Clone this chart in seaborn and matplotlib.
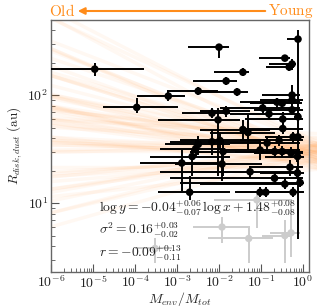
import numpy as np
import pandas as pd
import matplotlib
matplotlib.use('Agg')
import matplotlib.pyplot as plt
import seaborn as sns
from matplotlib.patches import Rectangle, FancyArrowPatch
from matplotlib.ticker import FuncFormatter, LogLocator, NullFormatter

# posterior samples of the fit (slope, intercept in log-log)
slopes = [-0.04, 0.02, -0.11, -0.07, 0.03, -0.01, -0.15, -0.05, 0.06, -0.09,
          -0.02, -0.12, 0.01, -0.06, -0.18, 0.04, -0.03, -0.08, 0.09, -0.13,
          0.00, -0.10, -0.04, 0.05, -0.16, -0.06, 0.02, -0.01, -0.20, -0.07,
          0.07, -0.03, -0.12, -0.05, 0.00, -0.09, 0.10, -0.14, -0.02, -0.08,
          0.03, -0.04, -0.17, -0.06, 0.01, -0.10, 0.08, -0.03, -0.21, -0.05,
          0.04, -0.11, -0.01, -0.07, 0.11, -0.15, -0.04, 0.00, -0.09, -0.02]
intercepts = [1.50, 1.41, 1.55, 1.47, 1.38, 1.52, 1.60, 1.44, 1.49, 1.35,
              1.58, 1.46, 1.53, 1.42, 1.63, 1.48, 1.39, 1.51, 1.45, 1.56,
              1.33, 1.49, 1.62, 1.43, 1.47, 1.54, 1.37, 1.50, 1.59, 1.44,
              1.52, 1.40, 1.46, 1.57, 1.48, 1.36, 1.51, 1.43, 1.65, 1.49,
              1.45, 1.53, 1.41, 1.47, 1.55, 1.39, 1.50, 1.61, 1.46, 1.42,
              1.30, 1.52, 1.48, 1.58, 1.44, 1.51, 1.37, 1.54, 1.47, 1.49]
x_ends = [1e-6, 3.0]

# sources: envelope mass fraction and dust disk radius (au)
menv = [1.1e-5, 1.1e-4, 6.2e-4, 0.010, 0.0148, 0.037, 3.2e-3, 0.027, 0.37, 0.76,
        0.76, 0.55, 0.47, 0.55, 6.8e-3, 0.0148, 9.5e-3, 6.8e-3, 0.0105, 0.0125,
        3.2e-3, 2.8e-3, 2.3e-3, 1.3e-3, 0.11, 0.155, 0.24, 0.32, 0.55, 0.33,
        0.33, 0.55, 0.037, 0.049, 0.14, 0.27, 0.58, 0.76, 0.095, 0.21,
        0.32, 0.52, 0.74, 2.0e-3, 0.0118, 0.095, 0.13, 0.58, 0.49, 0.74,
        0.055, 0.21, 0.37, 0.85]
menv_lo = [1e-6, 1.7e-5, 1.1e-4, 1.8e-3, 2.4e-3, 7.6e-3, 5.8e-4, 3.5e-3, 0.089, 0.42,
           0.60, 0.155, 0.13, 0.105, 1.3e-3, 3.5e-3, 3.5e-4, 6.8e-4, 1.2e-3, 2.0e-3,
           5.2e-4, 4.0e-4, 2.3e-4, 1.3e-4, 0.0105, 0.018, 0.032, 0.055, 0.095, 0.042,
           0.032, 0.07, 3.5e-3, 6.2e-3, 0.018, 0.032, 0.125, 0.16, 0.0105, 0.024,
           0.042, 0.07, 0.125, 3.5e-4, 8.9e-4, 0.024, 0.032, 0.105, 0.055, 0.095,
           4.0e-4, 6.8e-4, 3.5e-3, 1.2e-3]
menv_hi = [1.6e-4, 1.05e-3, 1.55e-3, 0.017, 0.027, 0.052, 9.5e-3, 0.049, 0.49, 0.85,
           0.85, 0.68, 0.62, 0.85, 0.018, 0.055, 0.032, 0.095, 0.095, 0.105,
           0.018, 0.014, 0.018, 0.0118, 0.85, 0.85, 0.85, 0.95, 1.0, 1.0,
           1.0, 1.0, 0.16, 0.21, 0.85, 1.0, 1.0, 1.05, 0.85, 1.0,
           1.0, 1.0, 1.05, 0.018, 0.105, 0.85, 1.0, 1.05, 1.0, 1.05,
           0.85, 1.0, 1.0, 1.05]
rdisk = [174, 77, 98, 278, 135, 163, 109, 107, 220, 330,
         63, 194, 182, 100, 68, 71, 59, 37, 38, 30,
         35, 32, 27, 23.5, 76, 67, 86, 84, 90, 60,
         49, 73, 48, 45, 36, 38, 41, 41, 31, 30,
         30, 29, 27, 12.6, 23, 12.6, 12.6, 12.6, 21.5, 19,
         19.5, 17, 15, 15.5]
rdisk_lo = [150, 68, 88, 220, 124, 150, 100, 98, 206, 272,
            4.6, 170, 166, 81, 61, 63, 18, 28, 31, 18,
            28, 27, 18, 13, 68, 60, 78, 76, 82, 49,
            44, 66, 38, 31, 30, 34, 37, 37, 25, 26,
            27, 26, 24, 10.7, 16, 11.3, 11.3, 11.3, 18, 17,
            17, 15, 13.5, 14]
rdisk_hi = [198, 94, 109, 290, 147, 178, 118, 116, 235, 400,
            272, 216, 199, 124, 76, 79, 76, 48, 46, 38,
            42, 38, 32, 31, 85, 75, 95, 93, 99, 70,
            55, 81, 59, 65, 42, 43, 46, 46, 38, 34,
            34, 33, 31, 18, 31, 14, 14, 14, 25, 22,
            22, 19.5, 17, 17.5]

# excluded sources (grey)
menv_g = [0.0118, 0.051, 0.37, 0.52, 0.08, 3.0e-4]
menv_g_lo = [2.4e-3, 5.5e-3, 0.105, 0.16, 7.8e-3, 1.0e-4]
menv_g_hi = [0.055, 0.19, 0.55, 0.85, 0.49, 7.6e-4]
rdisk_g = [6.0, 4.7, 5.0, 5.3, 10.7, 3.8]
rdisk_g_lo = [4.3, 2.8, 2.8, 3.2, 5.9, 2.8]
rdisk_g_hi = [7.4, 6.0, 7.0, 11.0, 13.0, 4.8]

x_ticks = [1e-6, 1e-5, 1e-4, 1e-3, 1e-2, 1e-1, 1e0]
y_ticks = [1e1, 1e2]

sns.set_style('ticks')
plt.rcParams['mathtext.fontset'] = 'cm'
plt.rcParams['font.family'] = ['DejaVu Serif']

fig = plt.figure(figsize=(3.19, 3.07), dpi=100)
ax = fig.add_axes([0.16, 0.114, 0.809, 0.822])
ax.set_xscale('log')
ax.set_yscale('log')

rows = []
for i, (a, b) in enumerate(zip(slopes, intercepts)):
    for xe in x_ends:
        rows.append({'sample': i, 'x': xe, 'y': 10 ** (b + a * np.log10(xe))})
fan = pd.DataFrame(rows)
n_before = len(ax.lines)
sns.lineplot(data=fan, x='x', y='y', units='sample', estimator=None,
             color='#ff7f0e', alpha=0.05, lw=2.5, ax=ax, legend=False)
clip = Rectangle((0, 0), 1.03, 1, transform=ax.transAxes, visible=False)
ax.add_patch(clip)
for ln in ax.lines[n_before:]:
    ln.set_clip_path(clip)
    ln.set_zorder(1)

# grey points
g_xerr = [np.subtract(menv_g, menv_g_lo), np.subtract(menv_g_hi, menv_g)]
g_yerr = [np.subtract(rdisk_g, rdisk_g_lo), np.subtract(rdisk_g_hi, rdisk_g)]
ax.errorbar(menv_g, rdisk_g, xerr=g_xerr, yerr=g_yerr, fmt='none',
            ecolor='#cccccc', elinewidth=1.4, zorder=2)
sns.scatterplot(x=menv_g, y=rdisk_g, color='#cccccc', s=28, edgecolor='none',
                zorder=2, ax=ax)

# black points
xerr = [np.subtract(menv, menv_lo), np.subtract(menv_hi, menv)]
yerr = [np.subtract(rdisk, rdisk_lo), np.subtract(rdisk_hi, rdisk)]
ax.errorbar(menv, rdisk, xerr=xerr, yerr=yerr, fmt='none',
            ecolor='black', elinewidth=1.4, zorder=3)
sns.scatterplot(x=menv, y=rdisk, color='black', s=30, edgecolor='none',
                zorder=4, ax=ax)

ax.set_xlim(1e-6, 1.4)
ax.set_ylim(2.3, 500)
ax.set_xticks(x_ticks)
ax.set_yticks(y_ticks)
ax.xaxis.set_minor_locator(LogLocator(base=10, subs=np.arange(2, 10), numticks=20))
ax.yaxis.set_minor_locator(LogLocator(base=10, subs=np.arange(2, 10), numticks=20))
fmt = FuncFormatter(lambda v, p: r'$10^{%d}$' % round(np.log10(v)))
ax.xaxis.set_major_formatter(fmt)
ax.yaxis.set_major_formatter(fmt)
ax.xaxis.set_minor_formatter(NullFormatter())
ax.yaxis.set_minor_formatter(NullFormatter())
ax.tick_params(which='both', direction='in', colors='#555555', labelcolor='#222222',
               labelsize=10)
ax.tick_params(which='major', length=6, width=0.8, pad=2)
ax.tick_params(which='minor', length=3, width=0.6)
for s in ax.spines.values():
    s.set_color('#666666')
    s.set_linewidth(1.0)

ax.set_xlabel(r'$M_{env}/M_{tot}$', fontsize=10)
ax.set_ylabel(r'$R_{disk,dust}\ \mathrm{(au)}$', fontsize=9.5)
ax.xaxis.set_label_coords(0.5, -0.072)
ax.yaxis.set_label_coords(-0.105, 0.5)

txt_kw = dict(transform=ax.transAxes, fontsize=9.8, color='#222222', va='center', zorder=5)
ax.text(0.185, 0.25, r'$\log y = -0.04^{+0.06}_{-0.07}\,\log x + 1.48^{+0.08}_{-0.08}$', **txt_kw)
ax.text(0.185, 0.165, r'$\sigma^2 = 0.16^{+0.03}_{-0.02}$', **txt_kw)
ax.text(0.185, 0.075, r'$r = -0.09^{+0.13}_{-0.11}$', **txt_kw)

orange = '#ff8c1a'
fig.text(62 / 319, 1 - 11 / 307, r'$\mathrm{Old}$', color=orange, fontsize=11,
         ha='center', va='center')
fig.text(291 / 319, 1 - 11 / 307, r'$\mathrm{Young}$', color=orange, fontsize=11,
         ha='center', va='center')
fig.add_artist(FancyArrowPatch(
    (268 / 319, 1 - 11 / 307), (75 / 319, 1 - 11 / 307), transform=fig.transFigure,
    arrowstyle='-|>', mutation_scale=10, color=orange, lw=1.5))

fig.savefig('out.png', dpi=100)
